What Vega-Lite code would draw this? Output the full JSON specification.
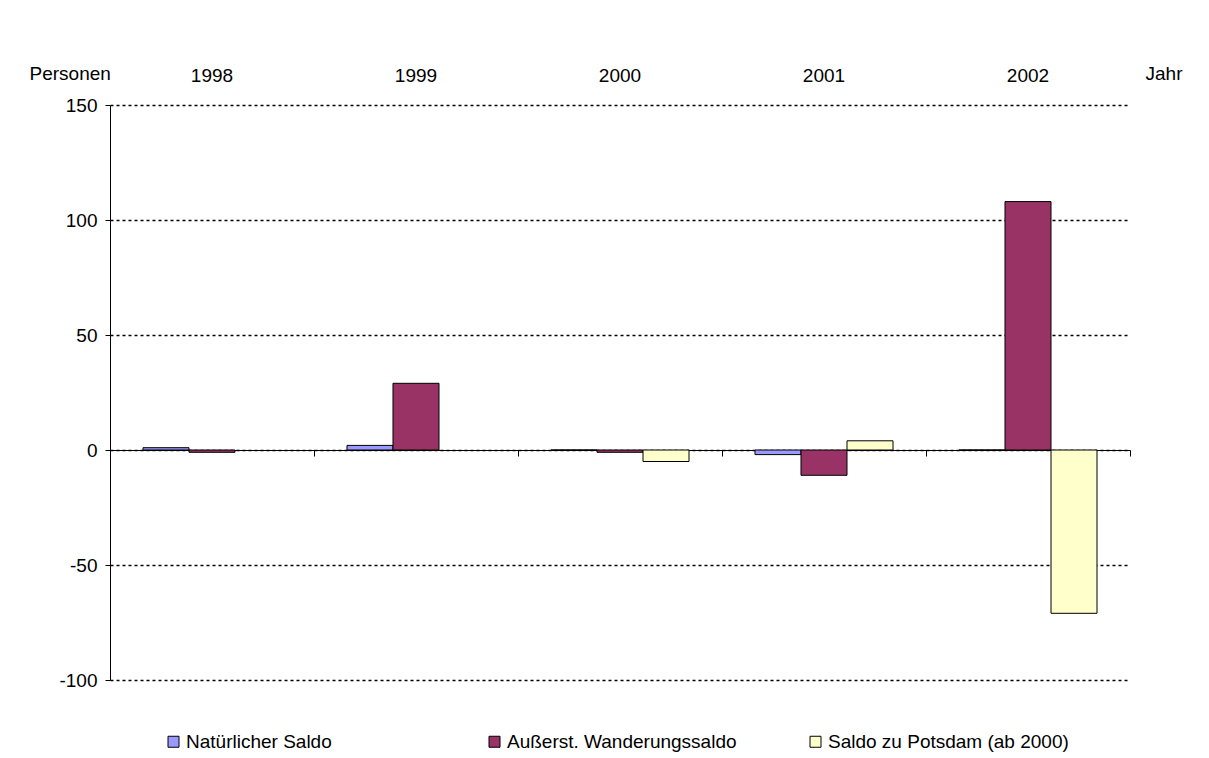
{
  "$schema": "https://vega.github.io/schema/vega-lite/v6.json",
  "autosize": {"type": "none"},
  "width": 1020,
  "height": 575,
  "padding": {"left": 110, "top": 105, "right": 79, "bottom": 78},
  "background": "white",
  "config": {
    "view": {"stroke": null},
    "font": "Liberation Sans",
    "axis": {"labelFont": "Liberation Sans", "titleFont": "Liberation Sans", "labelColor": "black", "titleColor": "black", "labelFontSize": 19, "titleFontSize": 19, "titleFontWeight": "normal"},
    "legend": {"labelFont": "Liberation Sans", "labelFontSize": 19, "labelColor": "black", "labelLimit": 400}
  },
  "data": {"values": [
    {"Jahr": "1998", "Reihe": "Natürlicher Saldo", "Wert": 1},
    {"Jahr": "1998", "Reihe": "Außerst. Wanderungssaldo", "Wert": -1},
    {"Jahr": "1999", "Reihe": "Natürlicher Saldo", "Wert": 2},
    {"Jahr": "1999", "Reihe": "Außerst. Wanderungssaldo", "Wert": 29},
    {"Jahr": "2000", "Reihe": "Natürlicher Saldo", "Wert": 0},
    {"Jahr": "2000", "Reihe": "Außerst. Wanderungssaldo", "Wert": -1},
    {"Jahr": "2000", "Reihe": "Saldo zu Potsdam (ab 2000)", "Wert": -5},
    {"Jahr": "2001", "Reihe": "Natürlicher Saldo", "Wert": -2},
    {"Jahr": "2001", "Reihe": "Außerst. Wanderungssaldo", "Wert": -11},
    {"Jahr": "2001", "Reihe": "Saldo zu Potsdam (ab 2000)", "Wert": 4},
    {"Jahr": "2002", "Reihe": "Natürlicher Saldo", "Wert": 0},
    {"Jahr": "2002", "Reihe": "Außerst. Wanderungssaldo", "Wert": 108},
    {"Jahr": "2002", "Reihe": "Saldo zu Potsdam (ab 2000)", "Wert": -71}
  ]},
  "resolve": {"axis": {"x": "independent"}},
  "layer": [
    {
      "mark": {"type": "bar", "stroke": "black", "strokeWidth": 1},
      "encoding": {
        "x": {"field": "Jahr", "type": "nominal", "scale": {"paddingInner": 0, "paddingOuter": 0},
          "axis": {"orient": "bottom", "offset": -230, "labels": false, "title": null, "domainColor": "black", "domainWidth": 1, "tickColor": "black", "tickSize": 6, "tickBand": "extent", "grid": false}},
        "xOffset": {"field": "Reihe", "type": "nominal", "scale": {"domain": ["Natürlicher Saldo", "Außerst. Wanderungssaldo", "Saldo zu Potsdam (ab 2000)"], "paddingInner": 0, "paddingOuter": 0.717}},
        "y": {"field": "Wert", "type": "quantitative", "scale": {"domain": [-100, 150], "nice": false},
          "axis": {"values": [-100, -50, 0, 50, 100, 150], "labelExpr": "'' + datum.value", "grid": true, "gridColor": "black", "gridDash": [3, 3], "gridWidth": 1.5, "domainColor": "black", "tickColor": "black", "tickSize": 5, "labelPadding": 8,
            "title": "Personen", "titleAngle": 0, "titleAlign": "left", "titleBaseline": "middle", "titleX": -81, "titleY": -32}},
        "color": {"field": "Reihe", "type": "nominal",
          "scale": {"domain": ["Natürlicher Saldo", "Außerst. Wanderungssaldo", "Saldo zu Potsdam (ab 2000)"], "range": ["#9999FF", "#993366", "#FFFFCC"]},
          "legend": {"title": null, "orient": "none", "legendX": 54, "legendY": 627, "direction": "horizontal", "columns": 3, "gridAlign": "all", "columnPadding": 58, "symbolType": "square", "symbolSize": 121, "symbolStrokeColor": "black", "symbolStrokeWidth": 1, "symbolOpacity": 1, "labelOffset": 3}}
      }
    },
    {
      "mark": {"type": "bar", "opacity": 0},
      "encoding": {
        "x": {"field": "Jahr", "type": "nominal",
          "axis": {"orient": "top", "ticks": false, "domain": false, "labelPadding": 20, "labelAngle": 0, "grid": false,
            "title": "Jahr", "titleAlign": "left", "titleBaseline": "middle", "titleX": 1035, "titleY": -32}},
        "xOffset": {"field": "Reihe", "type": "nominal"},
        "y": {"field": "Wert", "type": "quantitative"}
      }
    }
  ]
}
